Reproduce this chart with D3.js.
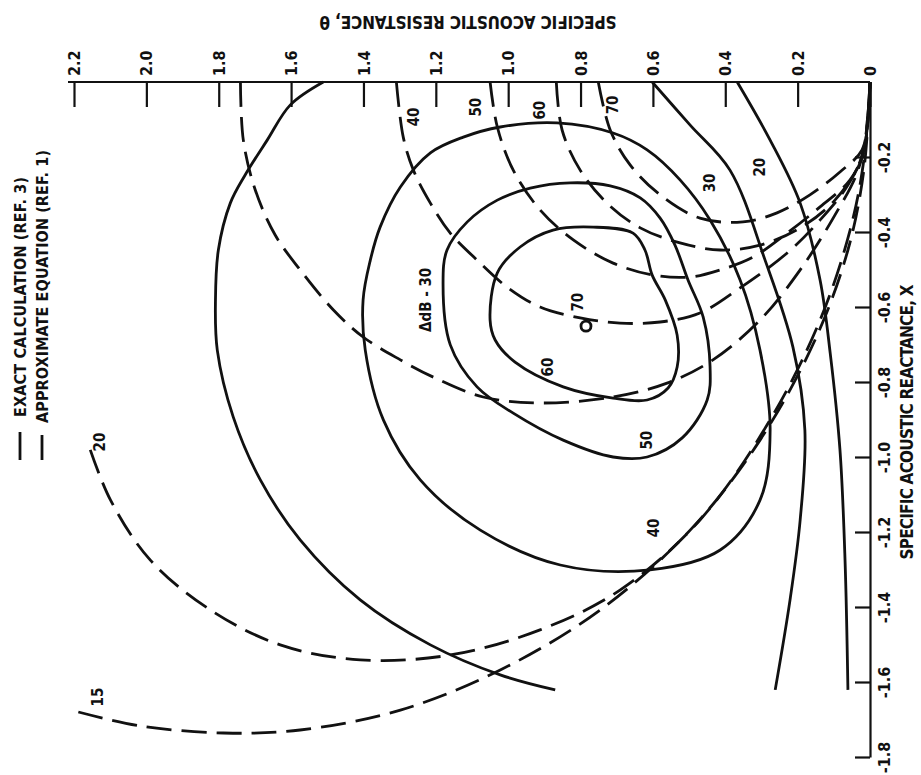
<!DOCTYPE html>
<html>
<head>
<meta charset="utf-8">
<script src="https://cdn.jsdelivr.net/npm/d3@7/dist/d3.min.js"></script>
<style>
  body { margin: 0; background: #fff; }
  svg { display: block; background: #fff; }
  text { font-family: "Liberation Sans Narrow", "DejaVu Sans Condensed", "Roboto", sans-serif; font-weight: bold; fill: #111; }
  .axis path, .axis line { stroke: #111; stroke-width: 2.2px; }
  .curve { fill: none; stroke: #111; stroke-width: 2.8px; stroke-linejoin: round; }
  .curve.approx { stroke-dasharray: 25 10; }
</style>
</head>
<body>
<svg id="chart"></svg>
<script>
// Axis ticks
const resistanceTicks = [0, 0.2, 0.4, 0.6, 0.8, 1.0, 1.2, 1.4, 1.6, 1.8, 2.0, 2.2];
const resistanceTickLabels = ['0', '0.2', '0.4', '0.6', '0.8', '1.0', '1.2', '1.4', '1.6', '1.8', '2.0', '2.2'];
const reactanceTicks = [-0.2, -0.4, -0.6, -0.8, -1.0, -1.2, -1.4, -1.6, -1.8];
const reactanceTickLabels = ['-0.2', '-0.4', '-0.6', '-0.8', '-1.0', '-1.2', '-1.4', '-1.6', '-1.8'];

// Exact calculation contours, [resistance, reactance]
const exact20 = [[0.367, 0], [0.276, -0.155], [0.193, -0.323], [0.138, -0.528], [0.110, -0.723],
  [0.083, -0.981], [0.069, -1.275], [0.061, -1.621]];
const exact30Right = [[0.602, 0], [0.497, -0.115], [0.387, -0.235], [0.290, -0.475], [0.213, -0.707],
  [0.180, -0.928], [0.193, -1.168], [0.221, -1.381], [0.262, -1.621]];
const exact30Left = [[1.511, 0], [1.602, -0.061], [1.666, -0.155], [1.727, -0.248], [1.768, -0.323],
  [1.801, -0.448], [1.809, -0.581], [1.804, -0.715], [1.760, -0.893], [1.685, -1.061], [1.575, -1.221],
  [1.409, -1.381], [1.215, -1.501], [1.022, -1.581], [0.870, -1.621]];
const exact40 = [[1.354, -0.387], [1.298, -0.280], [1.215, -0.189], [1.124, -0.147], [1.022, -0.120],
  [0.865, -0.109], [0.710, -0.136], [0.616, -0.181], [0.525, -0.261], [0.442, -0.368], [0.359, -0.528],
  [0.304, -0.715], [0.276, -0.928], [0.304, -1.115], [0.414, -1.248], [0.608, -1.301], [0.856, -1.288],
  [1.077, -1.195], [1.243, -1.061], [1.345, -0.901], [1.395, -0.715], [1.401, -0.581], [1.381, -0.475]];
const exact50 = [[1.180, -0.536], [1.169, -0.448], [1.113, -0.373], [1.030, -0.315], [0.939, -0.283],
  [0.829, -0.269], [0.718, -0.277], [0.635, -0.309], [0.580, -0.363], [0.539, -0.435], [0.503, -0.528],
  [0.461, -0.627], [0.442, -0.760], [0.450, -0.848], [0.519, -0.949], [0.616, -1.000], [0.710, -1.000],
  [0.848, -0.955], [0.986, -0.883], [1.086, -0.813], [1.160, -0.701]];
const exact60 = [[1.050, -0.635], [1.030, -0.509], [0.967, -0.440], [0.876, -0.395], [0.765, -0.387],
  [0.655, -0.403], [0.622, -0.448], [0.602, -0.515], [0.566, -0.581], [0.533, -0.675], [0.533, -0.760],
  [0.558, -0.816], [0.616, -0.848], [0.710, -0.843], [0.848, -0.813], [0.981, -0.747], [1.036, -0.688]];
const exact70Peak = [0.785, -0.651];

// Approximate equation contours, [resistance, reactance]
const approx15 = [[2.188, -1.680], [2.017, -1.717], [1.787, -1.736], [1.575, -1.728], [1.298, -1.675],
  [1.022, -1.568], [0.746, -1.408], [0.497, -1.195], [0.304, -0.955], [0.152, -0.688], [0.061, -0.448],
  [0.017, -0.235], [0, 0]];
const approx20 = [[2.155, -0.981], [2.099, -1.115], [1.989, -1.275], [1.823, -1.408], [1.630, -1.501],
  [1.409, -1.541], [1.160, -1.528], [0.912, -1.461], [0.691, -1.355], [0.470, -1.168], [0.276, -0.901],
  [0.138, -0.635], [0.055, -0.395], [0.017, -0.208], [0, 0]];
const approx30 = [[1.740, 0], [1.732, -0.155], [1.699, -0.288], [1.644, -0.408], [1.575, -0.501],
  [1.483, -0.608], [1.401, -0.680], [1.298, -0.741], [1.207, -0.787], [1.069, -0.840], [0.912, -0.856],
  [0.710, -0.840], [0.561, -0.803], [0.434, -0.741], [0.304, -0.635], [0.193, -0.501], [0.097, -0.355],
  [0.033, -0.235], [0.006, -0.101], [0, 0]];
const approx40 = [[1.309, 0], [1.290, -0.147], [1.262, -0.235], [1.215, -0.323], [1.160, -0.403],
  [1.086, -0.475], [1.003, -0.547], [0.912, -0.600], [0.801, -0.629], [0.691, -0.643], [0.580, -0.640],
  [0.470, -0.616], [0.359, -0.549], [0.229, -0.456], [0.138, -0.368], [0.061, -0.275], [0.017, -0.181], [0, 0]];
const approx50 = [[1.050, 0], [1.030, -0.120], [0.986, -0.235], [0.912, -0.341], [0.820, -0.421],
  [0.710, -0.483], [0.599, -0.515], [0.497, -0.520], [0.414, -0.501], [0.323, -0.467], [0.229, -0.403],
  [0.138, -0.333], [0.055, -0.261], [0.017, -0.181], [0, 0]];
const approx60 = [[0.867, 0], [0.851, -0.128], [0.801, -0.235], [0.727, -0.323], [0.635, -0.389],
  [0.525, -0.429], [0.414, -0.448], [0.304, -0.435], [0.193, -0.389], [0.097, -0.315], [0.022, -0.203],
  [0.006, -0.088], [0, 0]];
const approx70 = [[0.751, 0], [0.718, -0.128], [0.663, -0.221], [0.580, -0.301], [0.470, -0.363],
  [0.351, -0.373], [0.257, -0.349], [0.166, -0.301], [0.083, -0.240], [0.022, -0.181], [0.006, -0.088], [0, 0]];

// Contour labels, [resistance, reactance]
const contourLabels = [
  { text: '20', at: [0.304, -0.227] }, { text: '30', at: [0.442, -0.269] },
  { text: '40', at: [0.599, -1.189] }, { text: '50', at: [0.616, -0.955] },
  { text: '60', at: [0.892, -0.760] }, { text: '70', at: [0.807, -0.587] },
  { text: '40', at: [1.262, -0.093] }, { text: '50', at: [1.091, -0.067] },
  { text: '60', at: [0.912, -0.075] }, { text: '70', at: [0.710, -0.061] },
  { text: '20', at: [2.130, -0.960] }, { text: '15', at: [2.133, -1.640] },
  { text: '\u0394dB - 30', at: [1.229, -0.581] }
];

const legendItems = ['EXACT CALCULATION (REF. 3)', 'APPROXIMATE EQUATION (REF. 1)'];

class ImpedanceChart {
    constructor(selector) {
        this.svg = d3.select(selector);
        this.width = 921;
        this.height = 775;
        this.init();
    }

    init() {
        this.svg.attr('width', this.width).attr('height', this.height);
        this.setupScales();
    }

    setupScales() {
        // resistance runs right to left along the top, reactance downwards
        this.xScale = d3.scaleLinear().domain([0, 2.2]).range([870, 74]);
        this.yScale = d3.scaleLinear().domain([0, -1.8]).range([82, 757]);
        this.line = d3.line()
            .x(d => this.xScale(d[0]))
            .y(d => this.yScale(d[1]))
            .curve(d3.curveCatmullRom.alpha(0.5));
        this.loop = d3.line()
            .x(d => this.xScale(d[0]))
            .y(d => this.yScale(d[1]))
            .curve(d3.curveCatmullRomClosed.alpha(0.5));
    }

    render() {
        this.createAxes();
        this.createCurves();
        this.createLabels();
        this.createLegend();
    }

    createAxes() {
        const topAxis = d3.axisTop(this.xScale)
            .tickValues(resistanceTicks)
            .tickFormat((d, i) => resistanceTickLabels[i])
            .tickSizeInner(-25)
            .tickSizeOuter(0);

        const gTop = this.svg.append('g')
            .attr('class', 'axis')
            .attr('transform', `translate(0, ${this.yScale(0)})`)
            .call(topAxis);
        gTop.selectAll('text')
            .attr('transform', 'rotate(-90)')
            .attr('x', 6).attr('y', 0).attr('dy', '0.35em')
            .attr('text-anchor', 'start')
            .style('font-size', '16px');
        // the scanned axis line runs a little past the last tick
        gTop.select('.domain').attr('d', `M${this.xScale(0)},0H${this.xScale(2.2) - 6}`);

        const rightAxis = d3.axisRight(this.yScale)
            .tickValues(reactanceTicks)
            .tickFormat((d, i) => reactanceTickLabels[i])
            .tickSizeInner(-15)
            .tickSizeOuter(0);

        const gRight = this.svg.append('g')
            .attr('class', 'axis')
            .attr('transform', `translate(${this.xScale(0)}, 0)`)
            .call(rightAxis);
        gRight.selectAll('text')
            .attr('transform', 'translate(14,0) rotate(-90)')
            .attr('x', 0).attr('y', 0).attr('dy', '0.35em')
            .attr('text-anchor', 'middle')
            .style('font-size', '16px');
        this.svg.selectAll('.axis .domain').attr('fill', 'none');

        // axis titles
        this.svg.append('text')
            .attr('transform', 'translate(468, 22) rotate(180)')
            .attr('text-anchor', 'middle')
            .attr('dy', '0.35em')
            .attr('textLength', 297)
            .style('font-size', '17px')
            .text('SPECIFIC ACOUSTIC RESISTANCE, \u03b8');

        this.svg.append('text')
            .attr('transform', 'translate(907, 422) rotate(-90)')
            .attr('text-anchor', 'middle')
            .attr('dy', '0.35em')
            .attr('textLength', 275)
            .style('font-size', '17px')
            .text('SPECIFIC ACOUSTIC REACTANCE, X');
    }

    createCurves() {
        const open = [exact20, exact30Right, exact30Left];
        const closed = [exact40, exact50, exact60];
        const dashed = [approx15, approx20, approx30, approx40, approx50, approx60, approx70];

        this.svg.selectAll('.exact-open')
            .data(open).enter().append('path')
            .attr('class', 'curve exact-open')
            .attr('d', d => this.line(d));

        this.svg.selectAll('.exact-loop')
            .data(closed).enter().append('path')
            .attr('class', 'curve exact-loop')
            .attr('d', d => this.loop(d));

        this.svg.append('circle')
            .attr('class', 'curve')
            .attr('cx', this.xScale(exact70Peak[0]))
            .attr('cy', this.yScale(exact70Peak[1]))
            .attr('r', 5);

        this.svg.selectAll('.approx')
            .data(dashed).enter().append('path')
            .attr('class', 'curve approx')
            .attr('d', d => this.line(d));
    }

    createLabels() {
        this.svg.selectAll('.contour-label')
            .data(contourLabels).enter().append('text')
            .attr('class', 'contour-label')
            .attr('transform', d => `translate(${this.xScale(d.at[0])}, ${this.yScale(d.at[1])}) rotate(-90)`)
            .attr('text-anchor', 'middle')
            .attr('dy', '0.35em')
            .style('font-size', '15px')
            .text(d => d.text);
    }

    createLegend() {
        const g = this.svg.append('g').attr('class', 'legend');
        const cols = [20, 42];
        const lengths = [240, 273];

        legendItems.forEach((label, i) => {
            g.append('line')
                .attr('class', i === 0 ? 'curve' : 'curve approx')
                .attr('x1', cols[i]).attr('x2', cols[i])
                .attr('y1', 460).attr('y2', 432);
            g.append('text')
                .attr('transform', `translate(${cols[i]}, ${i === 0 ? 417 : 423}) rotate(-90)`)
                .attr('text-anchor', 'start')
                .attr('dy', '0.35em')
                .attr('textLength', lengths[i])
                .style('font-size', '16px')
                .text(label);
        });
    }
}

const chart = new ImpedanceChart('#chart');
chart.render();
</script>
</body>
</html>
